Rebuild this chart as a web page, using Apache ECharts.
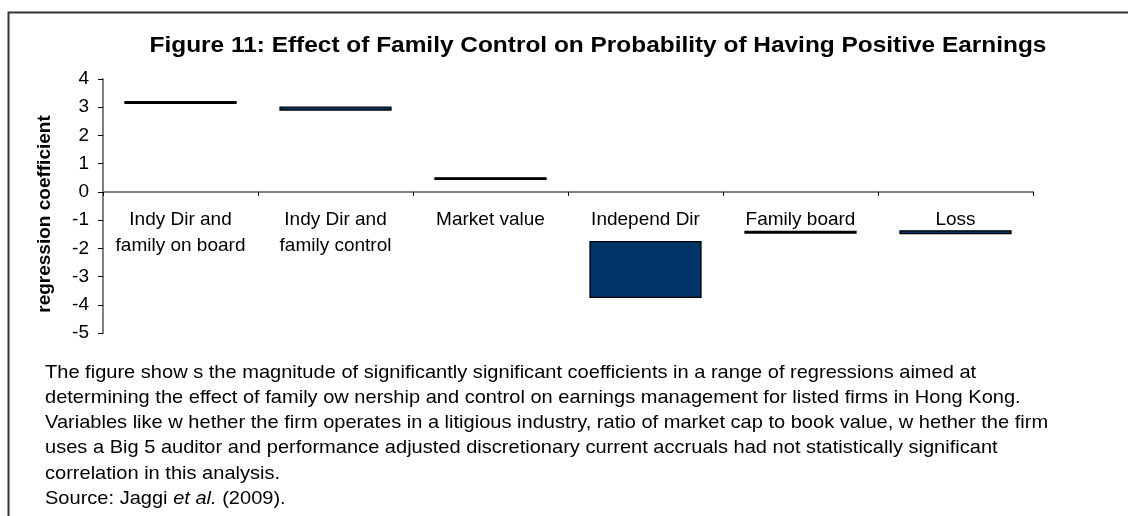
<!DOCTYPE html>
<html>
<head>
<meta charset="utf-8">
<script src="https://cdn.jsdelivr.net/npm/echarts@6/dist/echarts.min.js"></script>
<style>
html,body{margin:0;padding:0;background:#fff;}
#chart{width:1128px;height:516px;}
</style>
</head>
<body>
<div id="chart"></div>
<script>
// ---- data ----
var categories = ['Indy Dir and\nfamily on board', 'Indy Dir and\nfamily control', 'Market value', 'Independ Dir', 'Family board', 'Loss'];
var lowValues  = [3.14, 2.90, 0.44, -3.74, -1.46, -1.48];
var highValues = [3.20, 3.00, 0.50, -1.76, -1.40, -1.38];
var barFills   = ['#000000', '#003366', '#000000', '#003366', '#000000', '#003366'];
var yTicks = { min: -5, max: 4, step: 1 };
var titleText = 'Figure 11: Effect of Family Control on Probability of Having Positive Earnings';
var yAxisTitle = 'regression coefficient';
var captionLines = [
  'The figure show s the magnitude of significantly significant coefficients in a range of regressions aimed at',
  'determining the effect of family ow nership and control on earnings management for listed firms in Hong Kong.',
  'Variables like w hether the firm operates in a litigious industry, ratio of market cap to book value, w hether the firm',
  'uses a Big 5 auditor and performance adjusted discretionary current accruals had not statistically significant',
  'correlation in this analysis.'
];
// ---- chart ----
var FONT = '"Liberation Sans", Arial, sans-serif';
var seriesData = categories.map(function (c, i) { return [i, lowValues[i], highValues[i]]; });

var chart = echarts.init(document.getElementById('chart'), null, { renderer: 'canvas' });
chart.setOption({
  animation: false,
  backgroundColor: '#ffffff',
  grid: { left: 103, right: 95, top: 79, bottom: 183, containLabel: false },
  xAxis: {
    type: 'category',
    data: categories,
    axisLine: { onZero: false, lineStyle: { color: '#808080', width: 2 } },
    axisTick: { show: true, length: 4, lineStyle: { color: '#000', width: 1 } },
    axisLabel: { fontFamily: FONT, fontSize: 19, color: '#000', margin: 15, lineHeight: 26, interval: 0 },
    splitLine: { show: false }
  },
  yAxis: {
    type: 'value',
    min: yTicks.min, max: yTicks.max, interval: yTicks.step,
    axisLine: { show: true, lineStyle: { color: '#808080', width: 2 } },
    axisTick: { show: true, length: 5, lineStyle: { color: '#000', width: 1 } },
    axisLabel: { fontFamily: FONT, fontSize: 19, color: '#000', margin: 14 },
    splitLine: { show: false }
  },
  series: [{
    type: 'custom',
    data: seriesData,
    encode: { x: 0, y: [1, 2] },
    renderItem: function (params, api) {
      var idx = api.value(0);
      var lo = api.coord([idx, api.value(1)]);
      var hi = api.coord([idx, api.value(2)]);
      var w = api.size([1, 0])[0] * 0.716;
      return {
        type: 'rect',
        shape: { x: lo[0] - w / 2, y: hi[1], width: w, height: lo[1] - hi[1] },
        style: { fill: barFills[idx], stroke: '#000', lineWidth: 1.3 }
      };
    },
    z: 3
  }],
  graphic: [
    {
      type: 'polyline', silent: true,
      shape: { points: [[8.5, 516], [8.5, 12.5], [1128, 12.5]] },
      style: { stroke: '#333', lineWidth: 2, fill: null }
    },
    {
      type: 'text', silent: true, x: 598, y: 46, scaleX: 1.11,
      style: {
        text: titleText, x: 0, y: 0, textAlign: 'center', textVerticalAlign: 'middle',
        fontFamily: FONT, fontSize: 22, fontWeight: 'bold', fill: '#000'
      }
    },
    {
      type: 'text', silent: true, x: 45, y: 214, rotation: Math.PI / 2,
      style: {
        text: yAxisTitle, x: 0, y: 0, textAlign: 'center', textVerticalAlign: 'middle',
        fontFamily: FONT, fontSize: 19, fontWeight: 'bold', fill: '#000'
      }
    },
    {
      type: 'text', silent: true, x: 45, y: 360, scaleX: 1.055,
      style: {
        text: captionLines.join('\n') + '\n{n|Source: Jaggi }{i|et al.}{n| (2009).}',
        x: 0, y: 0, textVerticalAlign: 'top',
        fontFamily: FONT, fontSize: 19, lineHeight: 25.2, fill: '#000',
        rich: {
          n: { fontFamily: FONT, fontSize: 19, lineHeight: 25.2, fill: '#000' },
          i: { fontFamily: FONT, fontSize: 19, lineHeight: 25.2, fontStyle: 'italic', fill: '#000' }
        }
      }
    }
  ]
});
// place the category axis on the zero line of the value axis
var yZero = chart.convertToPixel({ yAxisIndex: 0 }, 0);
var yBottom = chart.convertToPixel({ yAxisIndex: 0 }, yTicks.min);
chart.setOption({ xAxis: { offset: yZero - yBottom } });
</script>
</body>
</html>
